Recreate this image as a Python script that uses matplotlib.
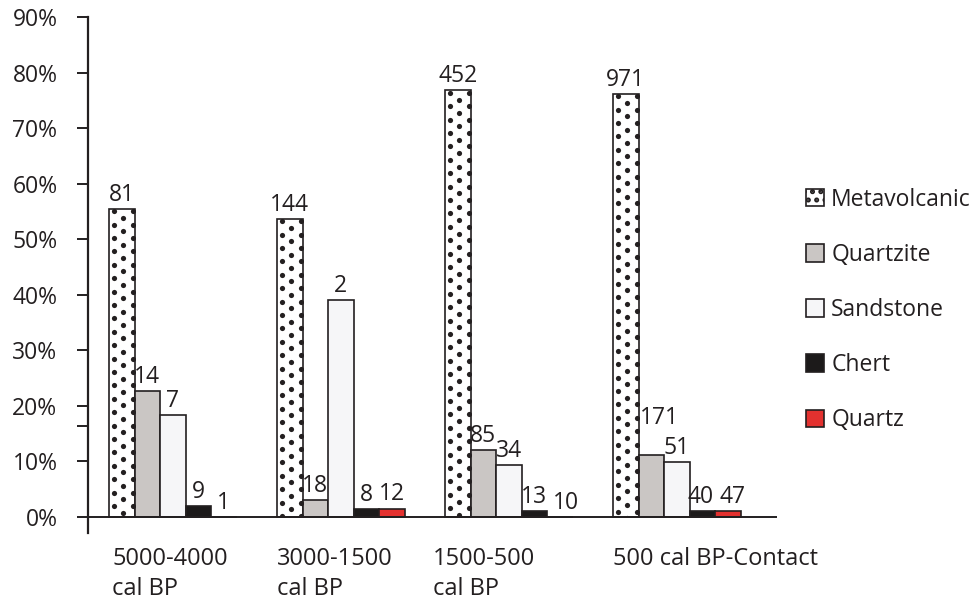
import matplotlib
matplotlib.use("Agg")
import matplotlib.pyplot as plt
from matplotlib.patches import Patch
import numpy as np

# Periods and raw-material categories
periods = ["5000-4000\ncal BP", "3000-1500\ncal BP", "1500-500\ncal BP", "500 cal BP-Contact"]
materials = ["Metavolcanic", "Quartzite", "Sandstone", "Chert", "Quartz"]

# Percent of assemblage per period (one list per material)
metavolcanic = [55.5, 53.7, 76.8, 76.2]
quartzite = [22.7, 3.1, 12.1, 11.2]
sandstone = [18.3, 39.1, 9.4, 9.8]
chert = [2.0, 1.4, 1.1, 1.0]
quartz = [0.0, 1.5, 0.0, 1.0]

# Artifact counts printed above each bar
n_metavolcanic = [81, 144, 452, 971]
n_quartzite = [14, 18, 85, 171]
n_sandstone = [7, 2, 34, 51]
n_chert = [9, 8, 13, 40]
n_quartz = [1, 12, 10, 47]

ink = "#231f20"
FS = 16.5
plt.rcParams["font.family"] = ["Open Sans", "DejaVu Sans"]
plt.rcParams["hatch.linewidth"] = 2.4
plt.rcParams["hatch.color"] = ink

fig = plt.figure(figsize=(9.74, 6.01), dpi=100)
ax_left, ax_right, ax_top, ax_bot = 88, 777, 17, 533
ax = fig.add_axes([ax_left / 974, 1 - ax_bot / 601, (ax_right - ax_left) / 974,
                   (ax_bot - ax_top) / 601])

series = [metavolcanic, quartzite, sandstone, chert, quartz]
counts = [n_metavolcanic, n_quartzite, n_sandstone, n_chert, n_quartz]
styles = [
    dict(facecolor="white"),
    dict(facecolor="#cac6c4"),
    dict(facecolor="#f6f6f8"),
    dict(facecolor="#1c1a1a"),
    dict(facecolor="#e3312f"),
]
# a few count labels are nudged (points) so neighbours don't collide
label_nudge = {(1, 3): (6, 16), (4, 3): (3, 0), (3, 3): (-1, 0), (4, 2): (4, 0)}

w = 0.152
xlim = (-0.125, 3.976)
ylim = (-2.9, 90)
ax.set_xlim(*xlim)
ax.set_ylim(*ylim)
# pixel size of one data unit, used for the dot texture spacing
px_x = (ax_right - ax_left) / (xlim[1] - xlim[0])
px_y = (ax_bot - ax_top) / (ylim[1] - ylim[0])

x0 = np.arange(len(periods))
bar_groups = []
for k, (vals, ns, st) in enumerate(zip(series, counts, styles)):
    xs = x0 + k * w
    bars = ax.bar(xs, vals, width=w, align="edge", edgecolor=ink, linewidth=1.2,
                  label=materials[k], zorder=2, **st)
    bar_groups.append(bars)
    for g, (xi, v, n) in enumerate(zip(xs, vals, ns)):
        nx, ny = label_nudge.get((k, g), (0, 0))
        ax.annotate(str(n), (xi + w / 2, v), xytext=(nx, 1.5 + ny), textcoords="offset points",
                    ha="center", va="bottom", fontsize=FS, color=ink)

# Staggered dot texture on the metavolcanic bars
row_step = 6.7 / px_y
for rect in bar_groups[0]:
    bx, bw, bh = rect.get_x(), rect.get_width(), rect.get_height()
    n_rows = int(bh / row_step) + 2
    dx, dy = [], []
    for r in range(n_rows):
        yy = bh - 2.5 / px_y - r * row_step
        offs = [4.5, 23.5] if r % 2 == 0 else [14.0]
        for o in offs:
            dx.append(bx + o / px_x)
            dy.append(yy)
    sc = ax.scatter(dx, dy, s=14.0, color=ink, linewidths=0, zorder=2.5)
    sc.set_clip_path(rect)

# Axes frame: only the left spine, plus a baseline at 0%
for s in ("top", "right", "bottom"):
    ax.spines[s].set_visible(False)
ax.spines["left"].set_color(ink)
ax.spines["left"].set_linewidth(1.6)
ax.axhline(0, color=ink, linewidth=1.4, zorder=3)

ax.set_yticks(np.arange(0, 91, 10))
ax.set_yticklabels([f"{t}%" for t in range(0, 91, 10)])
ax.set_yticks([16.4], minor=True)
ax.tick_params(axis="y", which="both", direction="out", length=8, width=1.4,
               color=ink, labelcolor=ink, labelsize=FS, pad=14)
ax.set_xticks([])

# Period labels under each group
label_x = [0.02, 1.0, 1.93, 3.0]
for lx, txt in zip(label_x, periods):
    ax.text(lx, -0.027, txt, transform=ax.get_xaxis_transform(), ha="left", va="top",
            fontsize=FS + 0.5, color=ink, linespacing=1.33)

handles = [Patch(edgecolor=ink, linewidth=1.2, label=m, **st) for m, st in zip(materials, styles)]
handles[0] = Patch(facecolor="white", edgecolor=ink, linewidth=1.2, hatch="..",
                   label=materials[0])
fig.legend(handles=handles, loc="center left", bbox_to_anchor=(806 / 974, 1 - 310 / 601),
           frameon=False, fontsize=FS, handlelength=0.8, handleheight=0.8,
           handletextpad=0.3, labelspacing=1.36, borderpad=0, borderaxespad=0,
           labelcolor=ink)

fig.savefig("out.png", dpi=100, facecolor="white")
